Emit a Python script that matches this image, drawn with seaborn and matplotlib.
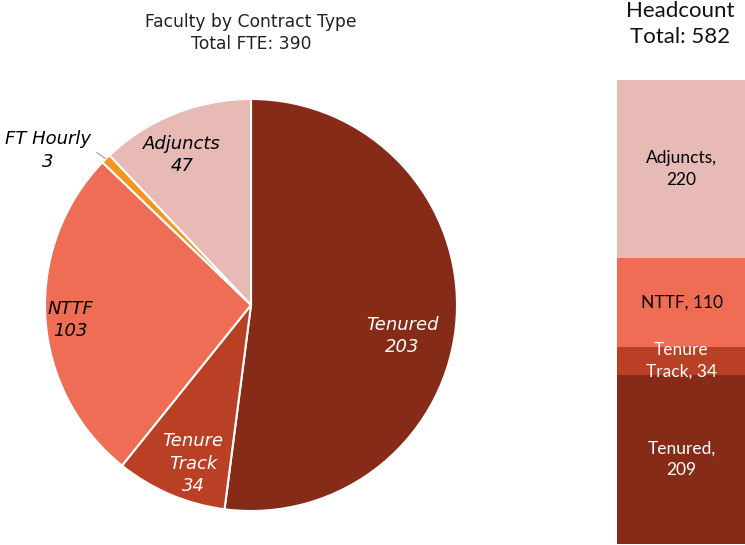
import numpy as np
import pandas as pd
import matplotlib
matplotlib.use("Agg")
import matplotlib.pyplot as plt
import seaborn as sns

# ---- data ----
fte_labels = ["Tenured", "Tenure\nTrack", "NTTF", "FT Hourly", "Adjuncts"]
fte_values = [203, 34, 103, 3, 47]
fte_total_text = "390"

hc_labels = ["Tenured,\n209", "Tenure\nTrack, 34", "NTTF, 110", "Adjuncts,\n220"]
hc_values = [209, 34, 110, 220]
hc_title = "Headcount"
hc_total_text = "582"

# ---- style ----
colors = ["#862B17", "#B94025", "#EF6C55", "#F7941D", "#E8BAB6"]
pie_text_colors = ["white", "white", "black", "black", "black"]
pie_label_r = [0.75, 0.82, 0.88, 1.24, 0.80]
pie_label_dang = [-8, 3, 1, 8, 3]
bar_text_colors = ["white", "white", "black", "black"]

sns.set_theme(style="white")
plt.rcParams["font.family"] = ["DejaVu Sans"]

fig = plt.figure(figsize=(7.45, 5.45), dpi=100)

# ---- pie ----
R = 206
ax = fig.add_axes([(251 - R) / 745, (545 - 305 - R) / 545, 2 * R / 745, 2 * R / 545])
wedges, _ = ax.pie(fte_values, colors=colors, startangle=90, counterclock=False,
                   wedgeprops=dict(edgecolor="white", linewidth=1.5))
ax.set_aspect("equal")
ax.set_xlim(-1, 1)
ax.set_ylim(-1, 1)
for i, w in enumerate(wedges):
    mid = (w.theta1 + w.theta2) / 2
    ang = np.deg2rad(mid + pie_label_dang[i])
    r = pie_label_r[i]
    x, y = r * np.cos(ang), r * np.sin(ang)
    txt = f"{fte_labels[i]}\n{fte_values[i]}"
    ax.text(x, y, txt, ha="center", va="center", style="italic",
            fontsize=13, color=pie_text_colors[i], linespacing=1.3)
    if fte_labels[i] == "FT Hourly":
        ex, ey = np.cos(np.deg2rad(mid)), np.sin(np.deg2rad(mid))
        ax.plot([ex, ex - 0.045], [ey, ey + 0.03], color="#A0A0A0", lw=0.8,
                clip_on=False)

fig.text(251 / 745, 1 - 33 / 545, "Faculty by Contract Type\nTotal FTE: " + fte_total_text,
         ha="center", va="center", fontsize=12.3, color="#222222", linespacing=1.35)

# ---- stacked bar ----
bx = fig.add_axes([617 / 745, 1 / 545, 0.175, 464 / 545])
cum = np.cumsum(hc_values)
df = pd.DataFrame({"x": ["Headcount"] * len(hc_values), "top": cum,
                   "layer": range(len(hc_values))})
for i in reversed(range(len(hc_values))):
    sns.barplot(data=df.iloc[[i]], x="x", y="top", color=colors[[0, 1, 2, 4][i]],
                width=1.0, saturation=1, ax=bx, linewidth=0)
bx.set_xlim(-0.5, 0.5)
bx.set_ylim(0, cum[-1])
bx.axis("off")
bottoms = np.concatenate([[0], cum[:-1]])
for i, lab in enumerate(hc_labels):
    yc = bottoms[i] + hc_values[i] / 2
    bx.text(-0.005, yc, lab, ha="center", va="center", fontsize=12.5,
            family="Lato", color=bar_text_colors[i], linespacing=1.45)

fig.text(680 / 745, 1 - 1 / 545, hc_title, ha="center", va="top",
         fontsize=16, family="Lato", color="#111111")
fig.text(680 / 745, 1 - 37 / 545, "Total: " + hc_total_text, ha="center",
         va="center", fontsize=16, family="Lato", color="#111111")

fig.savefig("out.png", dpi=100)
